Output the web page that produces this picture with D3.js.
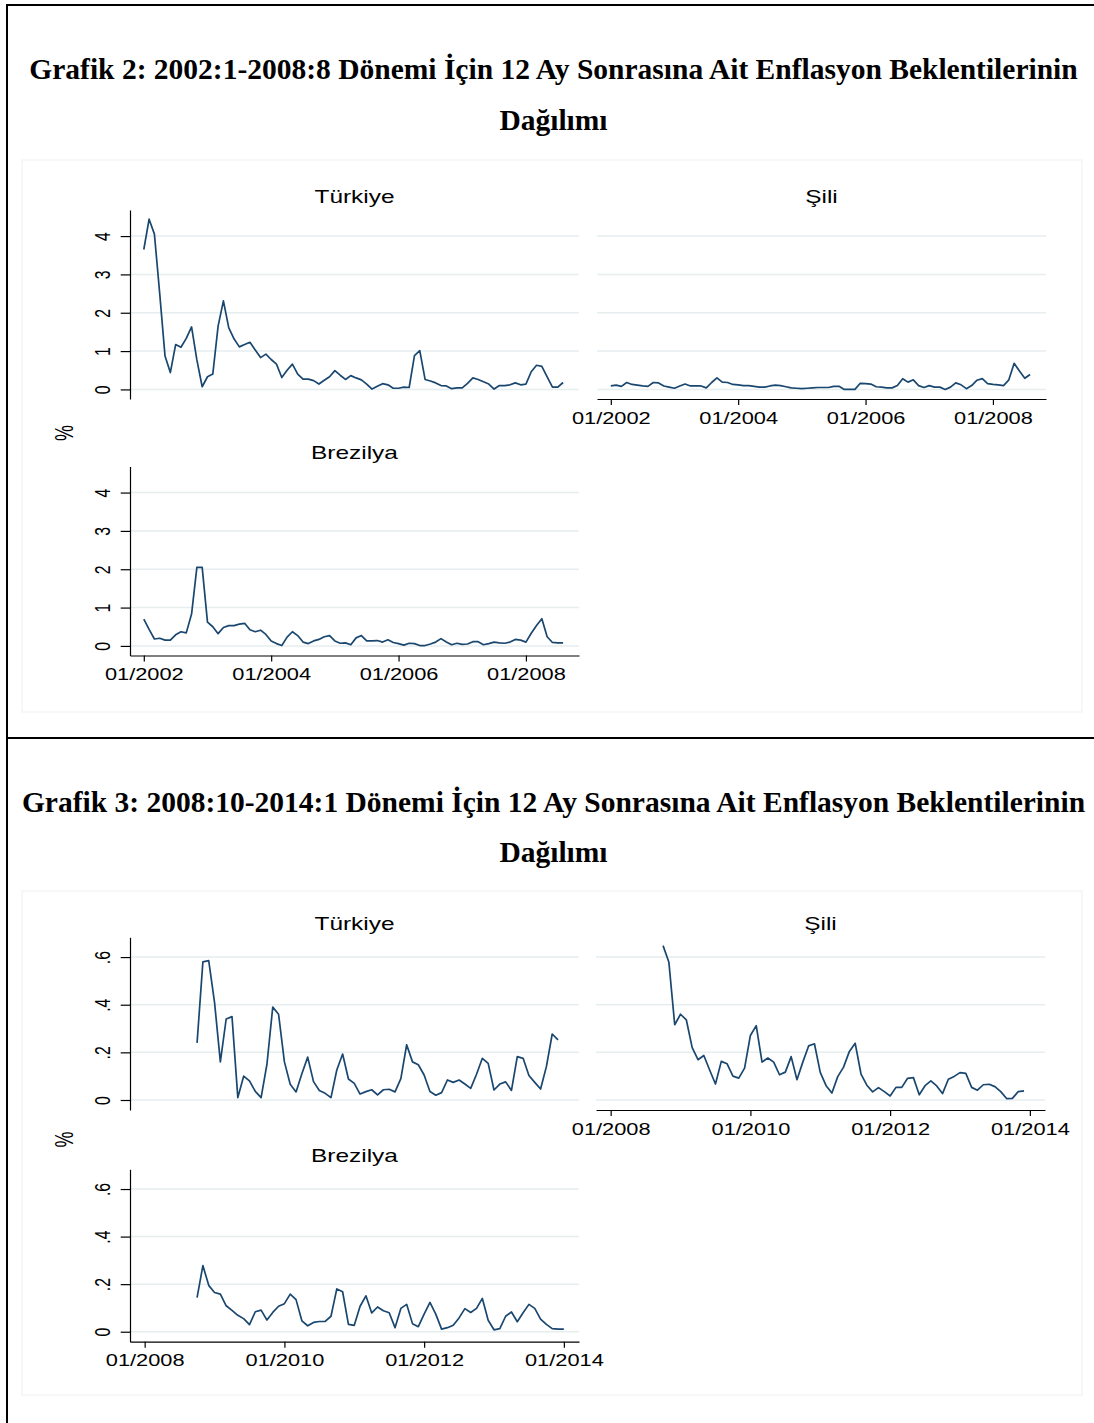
<!DOCTYPE html>
<head>
  <meta charset="utf-8">
  <title>Enflasyon Beklentileri</title>
  <script src="https://d3js.org/d3.v7.min.js"></script>
  <style>
  body { margin: 0; background: #fff; }
  .grid line { stroke: #e6eef0; stroke-width: 1.5px; }
  .axis path, .axis line { stroke: #000; stroke-width: 1.2px; }
  .axis text { font-family: "Liberation Sans", Arial, sans-serif; font-size: 15.8px; fill: #000; }
  .series { fill: none; stroke: #1a476f; stroke-width: 1.7px; stroke-linejoin: round; }
  </style>
</head>
<body>
<script>
var WIDTH = 1094, HEIGHT = 1423;
var SX = 1.38; // the source picture is stretched sideways

var titles = [
  "Grafik 2: 2002:1-2008:8 Dönemi İçin 12 Ay Sonrasına Ait Enflasyon Beklentilerinin",
  "Grafik 3: 2008:10-2014:1 Dönemi İçin 12 Ay Sonrasına Ait Enflasyon Beklentilerinin"
];
var subtitle = "Dağılımı";
var countries = ["Türkiye", "Şili", "Brezilya"];

// Grafik 2: monthly, 2002:1 - 2008:8
var turkiye1 = [3.65,4.44,4.05,2.5,0.87,0.44,1.17,1.1,1.33,1.63,
  0.77,0.07,0.33,0.4,1.65,2.31,1.61,1.32,1.11,1.17,
  1.23,1.03,0.83,0.92,0.78,0.66,0.31,0.5,0.66,0.4,
  0.27,0.27,0.23,0.14,0.24,0.33,0.49,0.37,0.26,0.36,
  0.3,0.25,0.14,0.01,0.08,0.15,0.12,0.03,0.03,0.06,
  0.05,0.88,1.01,0.26,0.22,0.17,0.1,0.09,0.02,0.04,
  0.04,0.16,0.3,0.26,0.2,0.14,0.01,0.1,0.1,0.12,
  0.17,0.12,0.14,0.46,0.63,0.6,0.33,0.06,0.06,0.18];
var sili1 = [0.09,0.11,0.08,0.18,0.13,0.11,0.09,0.08,0.18,0.17,
  0.09,0.06,0.03,0.09,0.14,0.09,0.09,0.09,0.04,0.18,
  0.3,0.19,0.18,0.13,0.12,0.1,0.1,0.08,0.06,0.06,
  0.09,0.11,0.1,0.07,0.04,0.03,0.02,0.03,0.04,0.05,
  0.05,0.05,0.08,0.08,0,0,0,0.16,0.15,0.14,
  0.07,0.06,0.04,0.04,0.1,0.28,0.19,0.25,0.1,0.05,
  0.1,0.06,0.06,0,0.06,0.17,0.12,0.02,0.1,0.24,
  0.28,0.15,0.13,0.12,0.1,0.25,0.68,0.48,0.29,0.39];
var brezilya1 = [0.7,0.43,0.18,0.2,0.15,0.15,0.29,0.37,0.34,0.83,
  2.05,2.05,0.62,0.5,0.32,0.48,0.53,0.53,0.57,0.59,
  0.42,0.37,0.41,0.3,0.13,0.06,0.01,0.23,0.37,0.27,
  0.1,0.06,0.13,0.17,0.24,0.27,0.13,0.07,0.08,0.03,
  0.21,0.27,0.13,0.13,0.14,0.1,0.16,0.09,0.06,0.02,
  0.07,0.06,0.01,0.01,0.05,0.1,0.19,0.1,0.03,0.07,
  0.04,0.05,0.11,0.11,0.03,0.06,0.1,0.08,0.07,0.1,
  0.17,0.15,0.1,0.33,0.53,0.71,0.24,0.09,0.08,0.08];

// Grafik 3: monthly from 2008:10
var turkiye2 = [0.24,0.58,0.585,0.41,0.16,0.34,0.35,0.01,0.1,0.08,
  0.036,0.01,0.15,0.39,0.36,0.16,0.066,0.034,0.11,0.18,
  0.077,0.04,0.028,0.01,0.126,0.193,0.088,0.07,0.025,0.035,
  0.043,0.021,0.043,0.045,0.034,0.09,0.232,0.16,0.148,0.105,
  0.036,0.02,0.031,0.084,0.074,0.084,0.067,0.049,0.108,0.175,
  0.154,0.042,0.067,0.076,0.04,0.182,0.175,0.103,0.074,0.046,
  0.14,0.277,0.252];
var sili2 = [0.648,0.578,0.316,0.36,0.336,0.22,0.169,0.187,0.126,0.067,
  0.162,0.152,0.1,0.092,0.134,0.271,0.312,0.159,0.176,0.159,
  0.106,0.117,0.182,0.085,0.159,0.227,0.236,0.116,0.06,0.029,
  0.098,0.138,0.204,0.238,0.109,0.062,0.034,0.052,0.035,0.017,
  0.053,0.053,0.091,0.094,0.022,0.06,0.08,0.059,0.027,0.087,
  0.099,0.115,0.112,0.053,0.041,0.064,0.066,0.056,0.035,0.006,
  0.007,0.035,0.038];
var brezilya2 = [0.143,0.278,0.195,0.165,0.158,0.109,0.09,0.069,0.055,0.03,
  0.084,0.091,0.049,0.081,0.107,0.118,0.158,0.135,0.046,0.025,
  0.039,0.043,0.043,0.065,0.18,0.168,0.031,0.027,0.107,0.151,
  0.079,0.104,0.088,0.08,0.017,0.098,0.115,0.034,0.021,0.074,
  0.123,0.074,0.011,0.017,0.027,0.058,0.097,0.081,0.098,0.14,
  0.048,0.008,0.013,0.065,0.083,0.042,0.08,0.115,0.098,0.053,
  0.031,0.013,0.011,0.011];

var yTicks1 = [0, 1, 2, 3, 4];
var yLabels1 = ["0", "1", "2", "3", "4"];
var yTicks2 = [0, 0.2, 0.4, 0.6];
var yLabels2 = ["0", ".2", ".4", ".6"];
var xLabels1 = ["01/2002", "01/2004", "01/2006", "01/2008"];
var xLabels2 = ["01/2008", "01/2010", "01/2012", "01/2014"];

// month index relative to the first tick label
function monthIndex(label, base) {
  var p = label.split("/");
  var b = base.split("/");
  return (+p[1] - +b[1]) * 12 + (+p[0] - +b[0]);
}

var svg = d3.select("body").append("svg")
  .attr("width", WIDTH)
  .attr("height", HEIGHT);

// page frame
svg.append("line").attr("x1", 6).attr("x2", WIDTH).attr("y1", 5).attr("y2", 5)
  .attr("stroke", "#000").attr("stroke-width", 2);
svg.append("line").attr("x1", 7).attr("x2", 7).attr("y1", 4).attr("y2", HEIGHT)
  .attr("stroke", "#000").attr("stroke-width", 2);
svg.append("line").attr("x1", 7).attr("x2", WIDTH).attr("y1", 738).attr("y2", 738)
  .attr("stroke", "#000").attr("stroke-width", 2);

var figures = [
  {
    title: titles[0], titleY: 79.3, subY: 130, box: [22, 160, 1082, 712],
    series: [turkiye1, sili1, brezilya1], start: 0,
    xDomain: [-2.6, 82], yDomain: [-0.25, 4.68],
    yTicks: yTicks1, yLabels: yLabels1, xLabels: xLabels1,
    panels: [
      {x: 130, y: 210, h: 189, yAxis: true, xAxis: false},
      {x: 597, y: 210, h: 189, yAxis: false, xAxis: true},
      {x: 130, y: 466.5, h: 189, yAxis: true, xAxis: true}
    ],
    pctY: 433
  },
  {
    title: titles[1], titleY: 812, subY: 862, box: [22, 891, 1082, 1395],
    series: [turkiye2, sili2, brezilya2], start: 9,
    xDomain: [-2.52, 74.6], yDomain: [-0.042, 0.683],
    yTicks: yTicks2, yLabels: yLabels2, xLabels: xLabels2,
    panels: [
      {x: 130, y: 937.3, h: 172.7, yAxis: true, xAxis: false},
      {x: 596, y: 937.3, h: 172.7, yAxis: false, xAxis: true},
      {x: 130, y: 1169.3, h: 172.4, yAxis: true, xAxis: true}
    ],
    pctY: 1139.5
  }
];

var PW = 449;

figures.forEach(function(f) {
  // light outline of the graph region
  svg.append("rect")
    .attr("x", f.box[0]).attr("y", f.box[1])
    .attr("width", f.box[2] - f.box[0]).attr("height", f.box[3] - f.box[1])
    .attr("fill", "none").attr("stroke", "#eef2f4").attr("stroke-width", 1.2);

  svg.append("text")
    .attr("x", 553.5).attr("y", f.titleY)
    .attr("text-anchor", "middle")
    .style("font-family", "'Liberation Serif', 'Times New Roman', serif")
    .style("font-weight", "bold").style("font-size", "29.5px")
    .text(f.title);
  svg.append("text")
    .attr("x", 553.5).attr("y", f.subY)
    .attr("text-anchor", "middle")
    .style("font-family", "'Liberation Serif', 'Times New Roman', serif")
    .style("font-weight", "bold").style("font-size", "29.5px")
    .text(subtitle);

  svg.append("text")
    .attr("transform", "translate(73," + f.pctY + ") scale(" + SX + ",1) rotate(-90)")
    .attr("text-anchor", "middle")
    .style("font-family", "'Liberation Sans', Arial, sans-serif")
    .style("font-size", "18px")
    .text("%");

  f.panels.forEach(function(p, k) {
    var x = d3.scaleLinear().domain(f.xDomain).range([p.x, p.x + PW]);
    var y = d3.scaleLinear().domain(f.yDomain).range([p.y + p.h, p.y]);
    var g = svg.append("g");

    // gridlines
    g.append("g").attr("class", "grid")
      .selectAll("line")
      .data(f.yTicks)
      .enter()
      .append("line")
      .attr("x1", p.x).attr("x2", p.x + PW)
      .attr("y1", function(d){ return y(d); })
      .attr("y2", function(d){ return y(d); });

    // panel title
    g.append("text")
      .attr("transform", "translate(" + (p.x + PW / 2) + "," + (p.y - 7.3) + ") scale(" + SX + ",1)")
      .attr("text-anchor", "middle")
      .style("font-family", "'Liberation Sans', Arial, sans-serif")
      .style("font-size", "17.7px")
      .text(countries[k]);

    if (p.yAxis) {
      var ya = g.append("g").attr("class", "axis")
        .attr("transform", "translate(" + p.x + ",0)")
        .call(d3.axisLeft(y)
          .tickValues(f.yTicks)
          .tickFormat(function(d, i){ return f.yLabels[i]; })
          .tickSize(9.3)
          .tickSizeOuter(0));
      ya.selectAll("text")
        .attr("x", null).attr("dy", null)
        .attr("text-anchor", "middle")
        .attr("transform", "translate(-20,0) scale(" + SX + ",1) rotate(-90)");
    }

    if (p.xAxis) {
      var ticks = f.xLabels.map(function(l){ return monthIndex(l, f.xLabels[0]); });
      var xa = g.append("g").attr("class", "axis")
        .attr("transform", "translate(0," + (p.y + p.h) + ")")
        .call(d3.axisBottom(x)
          .tickValues(ticks)
          .tickFormat(function(d, i){ return f.xLabels[i]; })
          .tickSize(6)
          .tickSizeOuter(0));
      xa.selectAll("text")
        .attr("y", null).attr("dy", null)
        .attr("text-anchor", "middle")
        .attr("transform", "translate(0,24.7) scale(" + SX + ",1)");
    }

    var line = d3.line()
      .x(function(d, i){ return x(f.start + i); })
      .y(function(d){ return y(d); });

    g.append("path")
      .datum(f.series[k])
      .attr("class", "series")
      .attr("d", line);
  });
});
</script>
</body>
